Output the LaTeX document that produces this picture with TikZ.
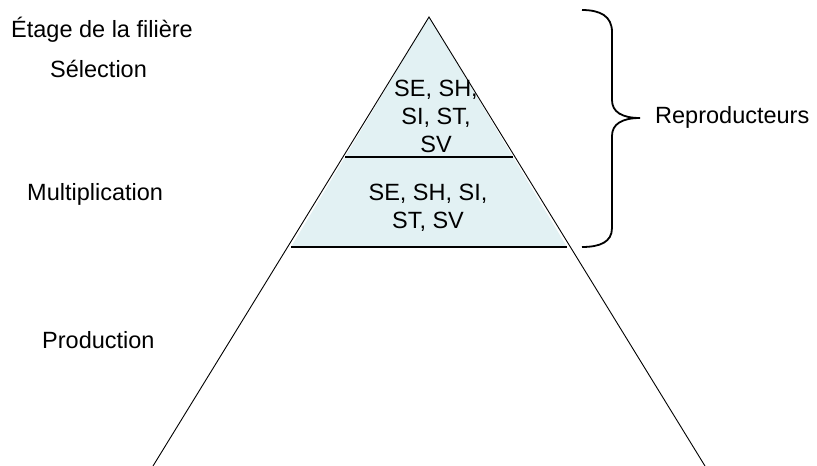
\documentclass[tikz,border=0pt]{standalone}
\usepackage{fontspec}
\setmainfont{Liberation Sans}
\definecolor{fillblue}{RGB}{226,241,243}
\begin{document}
\begin{tikzpicture}[x=1pt,y=-1pt,
  lbl/.style={inner sep=0pt, font=\fontsize{23.5}{28}\selectfont},
  side/.style={line width=0.9pt},
  tier/.style={line width=2.4pt},
  bracestyle/.style={line width=1.8pt}]
\useasboundingbox (0,0) rectangle (817,466);
\coordinate (apex) at (429,17);
\coordinate (bl) at (153,466);
\coordinate (br) at (705,466);
\coordinate (ml) at (291,247);
\coordinate (mr) at (567,247);
\coordinate (ul) at (345,157);
\coordinate (ur) at (513,157);
\fill[fillblue] (apex) -- (ml) -- (mr) -- cycle;
\draw[side] (bl) -- (apex) -- (br);
\draw[tier] (ul) -- (ur);
\draw[tier] (ml) -- (mr);
\node[lbl, anchor=base west] (etage) at (11,37) {Étage de la filière};
\node[lbl, anchor=base west] (sel) at (50,77) {Sélection};
\node[lbl, anchor=base west] (mult) at (27,200) {Multiplication};
\node[lbl, anchor=base west] (prod) at (42,348) {Production};
\node[lbl, align=center, anchor=base] (t1) at (436,152) {SE, SH,\\SI, ST,\\SV};
\node[lbl, align=center, anchor=base] (t2) at (428,228) {SE, SH, SI,\\ST, SV};
\coordinate (b1) at (582,10);
\coordinate (b2) at (582,247);
\coordinate (tip) at (640,118);
\draw[bracestyle] (b1) .. controls (600,10) and (612,16) .. (612,32)
  -- (612,100) .. controls (612,112) and (622,118) .. (tip)
  .. controls (622,118) and (612,124) .. (612,136)
  -- (612,228) .. controls (612,242) and (600,247) .. (b2);
\node[lbl, anchor=base west] (rep) at (655,123) {Reproducteurs};
\end{tikzpicture}
\end{document}
